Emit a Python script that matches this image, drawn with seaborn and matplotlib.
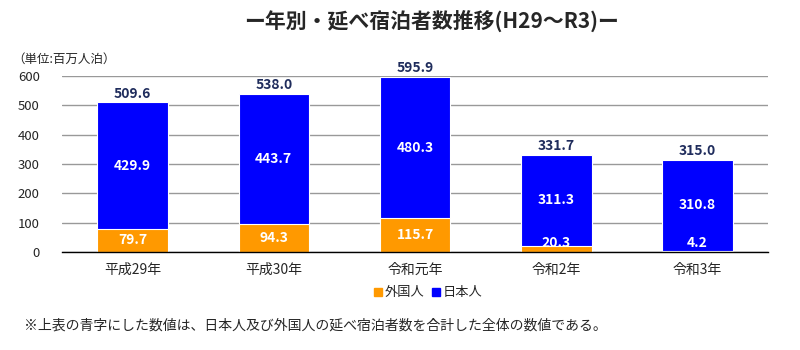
import matplotlib
matplotlib.use("Agg")
import matplotlib.pyplot as plt
import seaborn as sns
import pandas as pd
import numpy as np
from matplotlib.patches import Patch

years = ["平成29年", "平成30年", "令和元年", "令和2年", "令和3年"]
foreign = [79.7, 94.3, 115.7, 20.3, 4.2]
japanese = [429.9, 443.7, 480.3, 311.3, 310.8]
totals = [509.6, 538.0, 595.9, 331.7, 315.0]
yticks = [0, 100, 200, 300, 400, 500, 600]

sns.set_theme(style="white")
plt.rcParams['font.family'] = ['Noto Sans CJK JP', 'DejaVu Sans']

BLUE = "#0000FF"
ORANGE = "#FF9900"
NAVY = "#1F2C5C"

df = pd.DataFrame({"year": years, "foreign": foreign, "japanese": japanese,
                   "total": totals})

fig = plt.figure(figsize=(8, 3.5), dpi=100)
ax = fig.add_axes([0.0775, 0.28, 0.8825, 0.503])

sns.barplot(data=df, x="year", y="total", color=BLUE, width=0.5, ax=ax,
            saturation=1, edgecolor="white", linewidth=0.8)
sns.barplot(data=df, x="year", y="foreign", color=ORANGE, width=0.5, ax=ax,
            saturation=1, edgecolor="white", linewidth=0.8)

for i in range(len(years)):
    f = foreign[i]
    j = japanese[i]
    t = totals[i]
    ax.text(i, max(f / 2, 30), f"{f:.1f}", ha="center", va="center",
            color="white", fontsize=10, fontweight="bold")
    ax.text(i, f + j / 2, f"{j:.1f}", ha="center", va="center",
            color="white", fontsize=10, fontweight="bold")
    ax.text(i, t + 6, f"{t:.1f}", ha="center", va="bottom",
            color=NAVY, fontsize=10, fontweight="bold")

ax.set_ylim(0, 600)
ax.set_xlim(-0.5, len(years) - 0.5)
ax.set_yticks(yticks)
ax.set_yticklabels([str(v) for v in yticks], fontsize=9.5)
ax.yaxis.grid(True, color="#999999", linewidth=1)
ax.set_axisbelow(True)
ax.set_xlabel("")
ax.set_ylabel("")
for s in ["top", "right", "left"]:
    ax.spines[s].set_visible(False)
ax.spines["bottom"].set_color("black")
ax.spines["bottom"].set_linewidth(1)
ax.tick_params(axis="y", length=0, pad=16)
ax.set_xticks(range(len(years)))
ax.set_xticklabels(years, fontsize=10)
ax.tick_params(axis="x", length=0, pad=8)
ax.set_xticks(np.arange(-0.5, len(years)), minor=True)
ax.tick_params(axis="x", which="minor", length=5, color="black", width=1,
               direction="out")

fig.text(0.54, 0.94, "ー年別・延べ宿泊者数推移(H29～R3)ー", ha="center",
         va="center", fontsize=15, fontweight="bold")
fig.text(0.015, 0.83, "（単位:百万人泊）", ha="left", va="center", fontsize=9)

handles = [Patch(color=ORANGE, label="外国人"), Patch(color=BLUE, label="日本人")]
fig.legend(handles=handles, loc="center", bbox_to_anchor=(0.535, 0.163), ncol=2,
           frameon=False, fontsize=9.5, handlelength=0.6, handleheight=0.6,
           handletextpad=0.2, columnspacing=0.6)

fig.text(0.03, 0.07, "※上表の青字にした数値は、日本人及び外国人の延べ宿泊者数を合計した全体の数値である。",
         ha="left", va="center", fontsize=10)

fig.savefig("out.png", dpi=100)
